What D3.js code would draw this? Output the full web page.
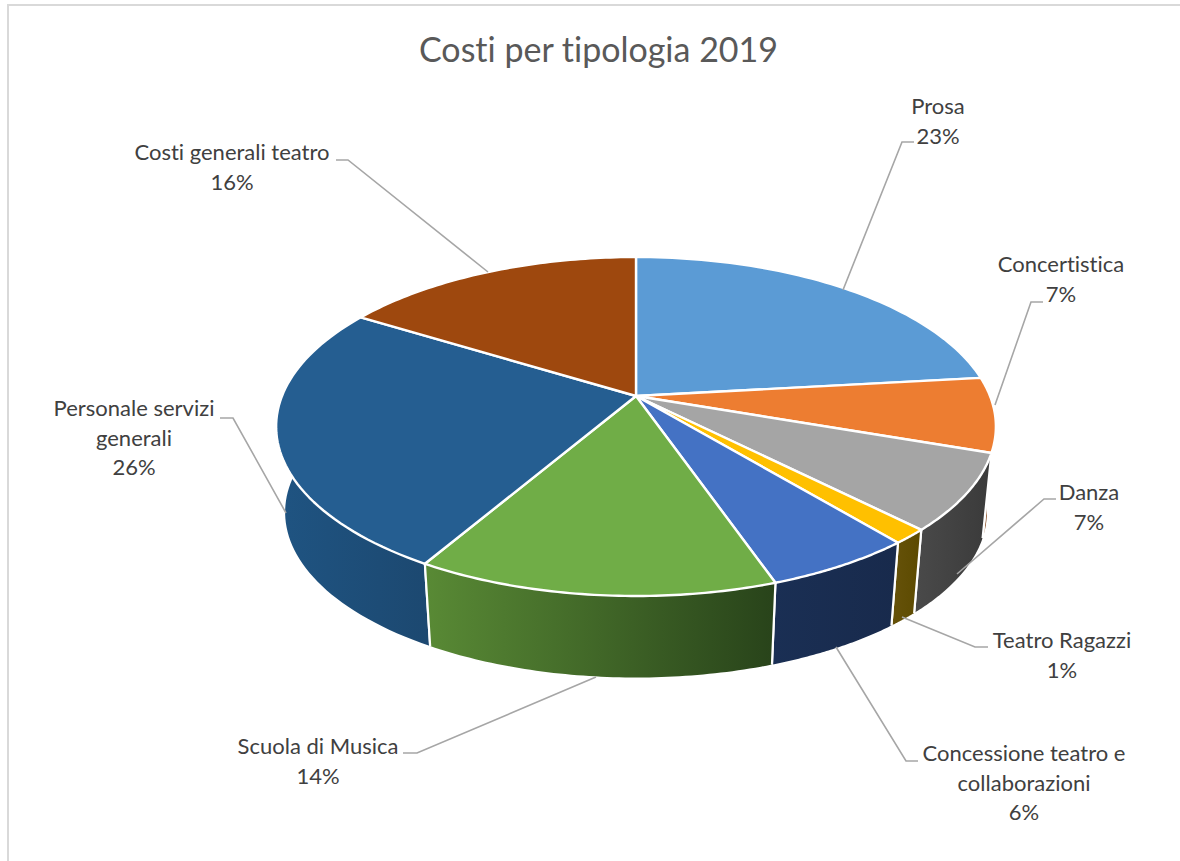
<!DOCTYPE html>
<html><head><meta charset="utf-8">
<script src="https://cdnjs.cloudflare.com/ajax/libs/d3/7.8.5/d3.min.js"></script>
<style>html,body{margin:0;padding:0;background:#fff}svg{display:block}text{font-variant-ligatures:none}</style></head>
<body><svg id="c" width="1180" height="861"></svg>
<script>
const title = "Costi per tipologia 2019";
const categories = ["Prosa","Concertistica","Danza","Teatro Ragazzi","Concessione teatro e collaborazioni","Scuola di Musica","Personale servizi generali","Costi generali teatro"];
const values = [23.2,7.1,7.3,1.4,5.7,13.7,25.4,16.2];
const percentLabels = ["23%","7%","7%","1%","6%","14%","26%","16%"];
const labelLines = [["Prosa"],["Concertistica"],["Danza"],["Teatro Ragazzi"],["Concessione teatro e","collaborazioni"],["Scuola di Musica"],["Personale servizi","generali"],["Costi generali teatro"]];
const topColors = ["#5b9bd5","#ed7d31","#a5a5a5","#ffc000","#4472c4","#70ad47","#255e91","#9e480e"];
const wallColors = [["#37699a","#37699a"],["#8a4a1e","#7f4319"],["#4a4a4a","#3a3a3a"],["#66520a","#5c4a00"],["#1a2f54","#182a4c"],["#598a35","#28431a"],["#1f5482","#1c4870"],["#6a3008","#6a3008"]];
// label layout: text centre x, first-line y, leader polyline
const labelX = [938,1061,1089,1062,1024,318,134,232];
const labelY = [114,272,500,648,761,754,416,160];
const leaders = [
  [[843,290],[902,142],[914,142]],
  [[995,405],[1031,302],[1043,302]],
  [[957,574],[1044,499],[1056,499]],
  [[902,617],[975,647],[988,647]],
  [[836,647],[906,761],[918,761]],
  [[596,677],[417,753],[403,753]],
  [[286,513],[233,418],[220,418]],
  [[488,272],[348,160],[336,160]]
];

const svg = d3.select("#c");
const defs = svg.append("defs");
const font = "Lato, Carlito, Calibri, sans-serif";

// frame
svg.append("path").attr("d","M8,861V5H1180").attr("fill","none").attr("stroke","#d9d9d9").attr("stroke-width",2);

// perspective projection of the unit disc
const cx=636, cy=396, A=354, B=164, k=0.18, depth=86.5, s=0.975;
function proj(a, scale, dy){
  const X=Math.sin(a), Y=-Math.cos(a), den=1-k*Y;
  return [cx+scale*A*X/den, cy+dy+scale*B*Y/den];
}
const pie = d3.pie().sort(null).value(d=>d)(values);
const line = d3.line();
const samples = d => d3.range(0,61).map(i=>d.startAngle+(d.endAngle-d.startAngle)*i/60);

wallColors.forEach((c,i)=>{
  const g=defs.append("linearGradient").attr("id","w"+i);
  g.append("stop").attr("offset","0%").attr("stop-color",c[0]);
  g.append("stop").attr("offset","100%").attr("stop-color",c[1]);
});

// outer walls, back to front, each with its white radial edges
const order = pie.map((d,i)=>({d,i})).sort((p,q)=>
  -Math.cos((p.d.startAngle+p.d.endAngle)/2) - -Math.cos((q.d.startAngle+q.d.endAngle)/2));
const walls = svg.append("g").selectAll("g").data(order).join("g");
walls.append("path")
  .attr("d",o=>{
    const a=samples(o.d);
    return line(a.map(t=>proj(t,1,0)).concat(a.slice().reverse().map(t=>proj(t,s,depth))))+"Z";
  })
  .attr("fill",o=>`url(#w${o.i})`);
walls.append("path")
  .attr("d",o=>line([proj(o.d.startAngle,1,0),proj(o.d.startAngle,s,depth)])+line([proj(o.d.endAngle,1,0),proj(o.d.endAngle,s,depth)]))
  .attr("fill","none").attr("stroke","#fff").attr("stroke-width",2.2);

// top faces
svg.append("g").selectAll("path").data(pie).join("path")
  .attr("d",d=>line([[cx,cy]].concat(samples(d).map(t=>proj(t,1,0))))+"Z")
  .attr("fill",(d,i)=>topColors[i])
  .attr("stroke","#fff").attr("stroke-width",2.4).attr("stroke-linejoin","round");

// leaders
svg.append("g").selectAll("path").data(leaders).join("path")
  .attr("d",d=>line(d)).attr("fill","none").attr("stroke","#a6a6a6").attr("stroke-width",1.6);

// labels
const lh=29.7;
const lab=svg.append("g").attr("font-family",font).attr("font-size",22).attr("fill","#404040").attr("text-anchor","middle");
categories.forEach((c,i)=>{
  const rows=labelLines[i].concat([percentLabels[i]]);
  lab.append("g").selectAll("text").data(rows).join("text")
    .attr("x",labelX[i]).attr("y",(r,j)=>labelY[i]+j*lh).text(r=>r);
});

svg.append("text").attr("x",598.5).attr("y",62).attr("text-anchor","middle")
  .attr("font-family",font).attr("font-size",34).attr("fill","#595959").text(title);
</script></body></html>
